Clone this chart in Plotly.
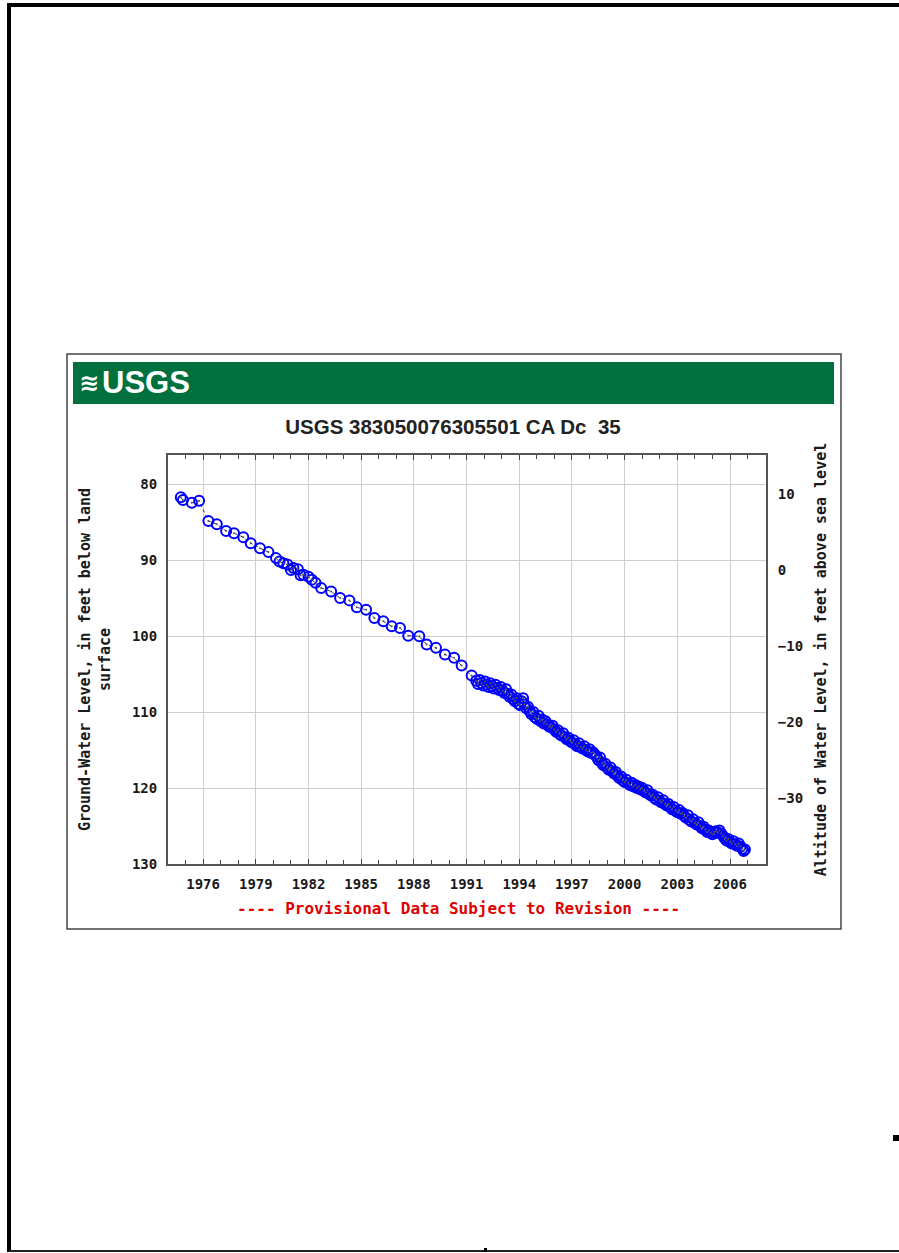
import plotly.graph_objects as go

# ---------------- data (decimal year, depth below land surface in ft) ----------------
years_early = [1974.73, 1974.85, 1975.36, 1975.77,
               1976.30, 1976.78, 1977.31, 1977.76, 1978.29, 1978.71, 1979.24, 1979.72,
               1980.15, 1980.35, 1980.57, 1980.80, 1981.00, 1981.14, 1981.40, 1981.55,
               1981.71, 1982.00, 1982.19, 1982.40, 1982.72, 1983.29, 1983.80, 1984.33,
               1984.75, 1985.28, 1985.75, 1986.26, 1986.74, 1987.21, 1987.68, 1988.31,
               1988.73, 1989.26, 1989.77, 1990.29, 1990.72, 1991.29]
depth_early = [81.75, 82.10, 82.45, 82.19,
               84.86, 85.29, 86.17, 86.47, 87.00, 87.78, 88.44, 88.96,
               89.75, 90.20, 90.41, 90.60, 91.30, 91.06, 91.20, 92.00,
               91.94, 92.20, 92.60, 93.00, 93.69, 94.13, 95.00, 95.31,
               96.23, 96.54, 97.62, 98.07, 98.73, 98.94, 99.95, 100.04,
               101.13, 101.56, 102.44, 102.87, 103.88, 105.20]

years_late = [1991.55, 1991.65, 1991.75, 1991.85, 1991.95, 1992.05, 1992.15, 1992.25, 1992.35,
              1992.45, 1992.55, 1992.65, 1992.75, 1992.85, 1992.95, 1993.05, 1993.15, 1993.25,
              1993.35, 1993.45, 1993.55, 1993.65, 1993.75, 1993.85, 1993.95, 1994.05, 1994.15,
              1994.22, 1994.30, 1994.40, 1994.50, 1994.60, 1994.70, 1994.80, 1994.90, 1995.00,
              1995.10, 1995.20, 1995.30, 1995.40, 1995.50, 1995.60, 1995.70, 1995.80, 1995.90,
              1996.00, 1996.10, 1996.20, 1996.30, 1996.40, 1996.50, 1996.60, 1996.70, 1996.80,
              1996.90, 1997.00, 1997.10, 1997.20, 1997.30, 1997.40, 1997.50, 1997.60, 1997.70,
              1997.80, 1997.90, 1998.00, 1998.10, 1998.20, 1998.30, 1998.40, 1998.50, 1998.60,
              1998.70, 1998.80, 1998.90, 1999.00, 1999.10, 1999.20, 1999.30, 1999.40, 1999.50,
              1999.60, 1999.70, 1999.80, 1999.90, 2000.00, 2000.10, 2000.20, 2000.30, 2000.40,
              2000.50, 2000.60, 2000.70, 2000.80, 2000.90, 2001.00, 2001.10, 2001.20, 2001.30,
              2001.40, 2001.50, 2001.60, 2001.70, 2001.80, 2001.90, 2002.00, 2002.10, 2002.20,
              2002.30, 2002.40, 2002.50, 2002.60, 2002.70, 2002.80, 2002.90, 2003.00, 2003.10,
              2003.20, 2003.30, 2003.40, 2003.50, 2003.60, 2003.70, 2003.80, 2003.90, 2004.00,
              2004.10, 2004.20, 2004.30, 2004.40, 2004.50, 2004.60, 2004.70, 2004.80, 2004.90,
              2005.00, 2005.10, 2005.20, 2005.30, 2005.40, 2005.50, 2005.60, 2005.70, 2005.80,
              2005.90, 2006.00, 2006.10, 2006.20, 2006.30, 2006.40, 2006.50, 2006.60, 2006.70,
              2006.78, 2006.85]
depth_late = [105.9, 106.3, 105.8, 106.2, 106.5, 106.0, 106.4, 106.7, 106.2,
              106.6, 106.9, 106.4, 106.8, 107.1, 106.7, 107.2, 107.5, 107.0,
              107.6, 108.0, 107.7, 108.3, 108.6, 108.2, 108.9, 109.1, 108.6,
              108.2, 109.0, 109.5, 109.3, 109.9, 110.3, 110.0, 110.7, 110.9,
              110.5, 111.2, 111.0, 111.5, 111.2, 111.6, 111.9, 112.0, 111.8,
              112.3, 112.6, 112.4, 112.9, 113.1, 112.8, 113.3, 113.6, 113.4,
              113.8, 114.0, 113.7, 114.2, 114.5, 114.1, 114.6, 114.8, 114.5,
              115.0, 115.2, 114.9, 115.4, 115.3, 115.6, 115.9, 116.3, 116.0,
              116.7, 117.0, 116.8, 117.3, 117.6, 117.3, 117.8, 118.1, 117.9,
              118.4, 118.7, 118.5, 119.0, 119.2, 118.9, 119.4, 119.6, 119.3,
              119.8, 119.6, 120.0, 119.8, 120.2, 120.0, 120.4, 120.6, 120.3,
              120.8, 121.0, 120.9, 121.3, 121.5, 121.2, 121.7, 121.9, 121.6,
              122.1, 122.3, 122.1, 122.5, 122.8, 122.5, 123.0, 123.2, 122.9,
              123.4, 123.3, 123.7, 123.9, 123.6, 124.2, 124.4, 124.1, 124.6,
              124.8, 124.5, 125.0, 125.3, 125.1, 125.5, 125.8, 125.6, 125.9,
              126.1, 125.8, 125.7, 125.9, 125.6, 126.0, 126.3, 126.6, 126.9,
              126.7, 127.1, 127.3, 127.0, 127.4, 127.6, 127.3, 127.7, 128.0,
              128.3, 128.1]

years = years_early + years_late
depths = depth_early + depth_late

land_surface_altitude = 91.3  # ft above sea level
x_ticks = [1976, 1979, 1982, 1985, 1988, 1991, 1994, 1997, 2000, 2003, 2006]
y_ticks = [80, 90, 100, 110, 120, 130]
y2_ticks = [10, 0, -10, -20, -30]
depth_range = [130, 76.18]
year_range = [1974.0, 2008.05]

# ---------------- layout helpers ----------------
W, H = 899, 1253


def px(x):
    return x / W


def py(y):
    return 1 - y / H


MONO = "DejaVu Sans Mono"
SANS = "Liberation Sans, Arial"
BLUE = "#0000ff"
GREEN = "#00703f"

fig = go.Figure()

# connecting dotted line + open circles
fig.add_trace(go.Scatter(
    x=years, y=depths, mode="lines+markers",
    line=dict(color="#333333", width=1, dash="dot"),
    marker=dict(symbol="circle-open", size=10, color=BLUE, line=dict(width=2, color=BLUE)),
    showlegend=False, hoverinfo="x+y",
))
# small center dots of the measurements
fig.add_trace(go.Scatter(
    x=years, y=depths, mode="markers",
    marker=dict(symbol="circle", size=2, color="#555555"),
    showlegend=False, hoverinfo="skip",
))
# invisible trace to activate the right axis
fig.add_trace(go.Scatter(
    x=[years[0]], y=[land_surface_altitude - depths[0]], yaxis="y2", mode="markers",
    marker=dict(opacity=0), showlegend=False, hoverinfo="skip",
))

tickfont = dict(family=MONO, size=14, color="#1a1a1a", weight="bold")
titlefont = dict(family=MONO, size=15, color="#1a1a1a", weight="bold")

fig.update_layout(
    width=W, height=H,
    margin=dict(l=0, r=0, t=0, b=0),
    paper_bgcolor="white", plot_bgcolor="white",
    title=dict(text="USGS 383050076305501 CA Dc  35", x=px(453), xanchor="center",
               y=py(427), yanchor="middle", xref="paper", yref="paper",
               font=dict(family=SANS, size=20.5, color="#222222", weight="bold")),
    xaxis=dict(
        domain=[px(168), px(766)], range=year_range,
        tickmode="array", tickvals=x_ticks, ticktext=[str(v) for v in x_ticks],
        tickfont=tickfont, ticks="inside", ticklen=5, tickcolor="#444",
        ticklabelstandoff=6,
        minor=dict(dtick=1, tick0=1974, ticks="inside", ticklen=4, tickcolor="#444", showgrid=False),
        showgrid=True, gridcolor="#cfcfcf", gridwidth=1.3,
        showline=True, linecolor="#555555", linewidth=2, mirror="ticks",
        zeroline=False, automargin=False,
    ),
    yaxis=dict(
        domain=[py(864), py(455)], range=depth_range,
        tickmode="array", tickvals=y_ticks, tickfont=tickfont, ticks="",
        ticklabelstandoff=6,
        showgrid=True, gridcolor="#cfcfcf", gridwidth=1.3,
        showline=True, linecolor="#555555", linewidth=2, mirror=True,
        zeroline=False, automargin=False,
        title=dict(text="Ground-Water Level, in feet below land<br>surface",
                   font=titlefont, standoff=18),
    ),
    yaxis2=dict(
        overlaying="y", side="right", anchor="x",
        range=[land_surface_altitude - depth_range[0], land_surface_altitude - depth_range[1]],
        tickmode="array", tickvals=y2_ticks, tickfont=tickfont, ticks="",
        ticklabelstandoff=7,
        showgrid=False, showline=True, linecolor="#555555", linewidth=2,
        zeroline=False, automargin=False,
        title=dict(text="Altitude of Water Level, in feet above sea level",
                   font=titlefont, standoff=13),
    ),
)

shapes = [
    # page border (left, top, bottom)
    dict(type="rect", xref="paper", yref="paper", x0=px(7), x1=px(11), y0=py(1252), y1=py(3),
         fillcolor="black", line=dict(width=0)),
    dict(type="rect", xref="paper", yref="paper", x0=px(7), x1=px(899), y0=py(7), y1=py(3),
         fillcolor="black", line=dict(width=0)),
    dict(type="rect", xref="paper", yref="paper", x0=px(9), x1=px(899), y0=py(1252), y1=py(1250),
         fillcolor="#222222", line=dict(width=0)),
    dict(type="rect", xref="paper", yref="paper", x0=px(893), x1=px(899), y0=py(1141), y1=py(1135),
         fillcolor="black", line=dict(width=0)),
    dict(type="rect", xref="paper", yref="paper", x0=px(484), x1=px(487), y0=py(1252), y1=py(1248),
         fillcolor="black", line=dict(width=0)),
    # chart frame
    dict(type="rect", xref="paper", yref="paper", x0=px(67), x1=px(841), y0=py(929), y1=py(354),
         line=dict(color="#444444", width=1.5), fillcolor="rgba(0,0,0,0)", layer="below"),
    # green banner
    dict(type="rect", xref="paper", yref="paper", x0=px(73), x1=px(834), y0=py(404), y1=py(362),
         fillcolor=GREEN, line=dict(width=0), layer="below"),
]
fig.update_layout(shapes=shapes)

fig.add_annotation(xref="paper", yref="paper", x=px(77), y=py(383), xanchor="left", yanchor="middle",
                   text="≋", showarrow=False,
                   font=dict(family="DejaVu Sans", size=24, color="white", weight="bold"))
fig.add_annotation(xref="paper", yref="paper", x=px(100), y=py(382), xanchor="left", yanchor="middle",
                   text="USGS", showarrow=False,
                   font=dict(family=SANS, size=31, color="white", weight="bold"))
fig.add_annotation(xref="paper", yref="paper", x=px(458), y=py(908), xanchor="center", yanchor="middle",
                   text="---- Provisional Data Subject to Revision ----", showarrow=False,
                   font=dict(family=MONO, size=16, color="#e00000", weight="bold"))

fig.write_html("out.html", config={"displayModeBar": False},
               post_script="document.body.style.margin='0';document.body.style.overflow='hidden';")
